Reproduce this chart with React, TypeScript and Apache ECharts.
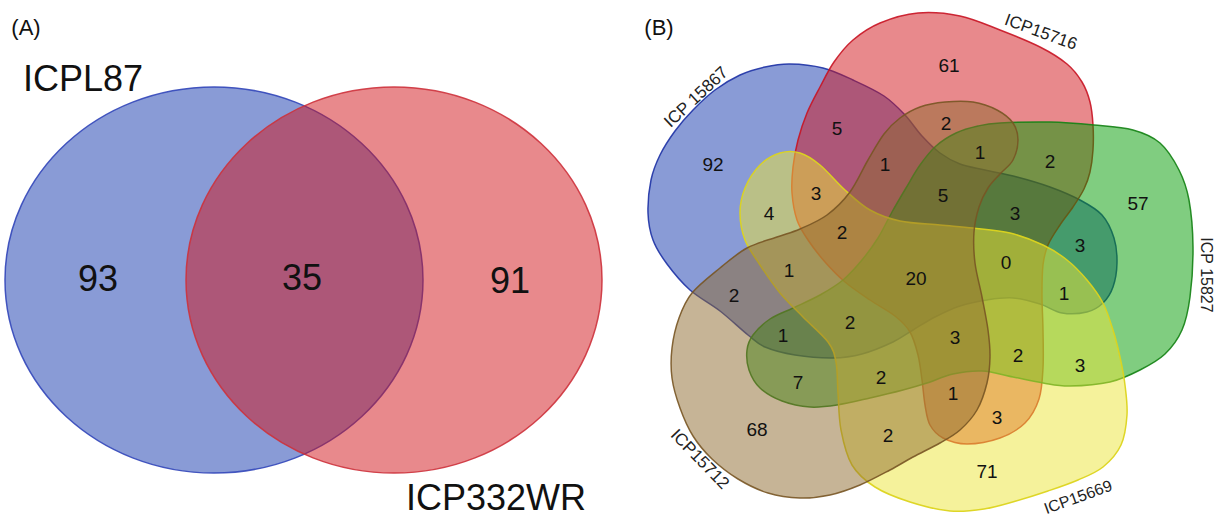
import React, { useEffect, useRef } from 'react';
import * as echarts from 'echarts';

// ---------------- DATA ----------------
// Panel A: two-set Venn
const panelASets = ['ICPL87', 'ICP332WR'];
const panelARegions = ['A', 'AB', 'B'];
const panelACounts = [93, 35, 91];

// Panel B: five-set Venn (B = ICP 15867, R = ICP15716, G = ICP 15827, Y = ICP15669, N = ICP15712)
const panelBSets = ['ICP 15867', 'ICP15716', 'ICP 15827', 'ICP15669', 'ICP15712'];
const panelBSetKeys = ['B', 'R', 'G', 'Y', 'N'];
const panelBRegions = [
  'B', 'R', 'G', 'Y', 'N', 'BR', 'BRN', 'BRY', 'BY', 'BRYN', 'BYN', 'BN', 'RN', 'RGN', 'RG', 'BRGN',
  'BRG', 'BG', 'BRGY', 'BRGYN', 'BGY', 'BGYN', 'BGN', 'RGYN', 'RGY', 'GY', 'GN', 'GYN', 'RYN', 'RY', 'YN',
];
const panelBCounts = [92, 61, 57, 71, 68, 5, 1, 3, 4, 2, 1, 2, 2, 1, 2, 5, 3, 3, 0, 20, 1, 2, 1, 3, 2, 3, 7, 2, 1, 3, 2];

// ---------------- LAYOUT / STYLE ----------------
const FONT = '"Liberation Sans", Arial, Helvetica, sans-serif';

const ellipseA = [
  { cx: 214, cy: 280, rx: 209, ry: 193, fill: 'rgba(20,55,173,0.5)', stroke: 'rgba(50,70,185,0.9)' },
  { cx: 394, cy: 280, rx: 208, ry: 193, fill: 'rgba(209,20,25,0.5)', stroke: 'rgba(205,50,60,0.9)' },
];
const panelALabelPos = [[83, 78], [496, 497]];
const panelACountPos = [[98, 278], [302, 277], [510, 280]];

const regionLabelPos = [
  [713, 164], [949, 65], [1138, 203], [987, 471], [757, 429], [837, 128], [885, 164], [816, 193], [769, 213],
  [842, 232], [789, 270], [734, 295], [946, 123], [980, 152], [1050, 161], [943, 195], [1015, 213], [1080, 245],
  [1006, 262], [916, 278], [1064, 293], [850, 322], [783, 335], [955, 337], [1018, 355], [1080, 365], [798, 382],
  [881, 377], [953, 393], [997, 417], [888, 435],
];

// set label placement: x, y, rotation (deg, ccw), font size
const setLabelPos = [
  [696, 97, 43, 17],
  [1041, 32, -20, 17],
  [1206, 275, -90, 16],
  [1078, 497, 20, 16],
  [700, 459, -46, 17],
];

const setStyle: Record<string, { fill: string; stroke: string }> = {
  B: { fill: 'rgba(20,55,173,0.5)', stroke: 'rgba(30,50,165,0.9)' },
  R: { fill: 'rgba(209,20,25,0.5)', stroke: 'rgba(200,20,35,0.9)' },
  G: { fill: 'rgba(1,155,1,0.5)', stroke: 'rgba(20,130,20,0.9)' },
  Y: { fill: 'rgba(235,229,55,0.5)', stroke: 'rgba(220,212,30,0.95)' },
  N: { fill: 'rgba(141,105,45,0.5)', stroke: 'rgba(120,85,35,0.9)' },
};

// outlines of the five set shapes (pixel geometry)
const outlines: Record<string, number[][]> = {
  R: [
    [925, 405], [922, 380], [918, 355], [910, 332], [895, 316], [870, 300], [845, 282], [825, 262], [808, 240],
    [797, 220], [792, 193], [793, 167], [798, 140], [807, 113], [820, 87], [834, 62], [853, 40], [880, 23],
    [918, 13], [960, 16], [1000, 30], [1040, 47], [1067, 64], [1082, 82], [1090, 102], [1093, 125], [1093, 150],
    [1090, 172], [1084, 189], [1073, 207], [1060, 225], [1048, 245], [1043, 265], [1042, 295], [1043, 330],
    [1043, 368], [1039, 399], [1025, 423], [1000, 438], [967, 444], [943, 438], [930, 425],
  ],
  B: [
    [648, 213], [651, 180], [660, 155], [675, 131], [693, 110], [715, 90], [740, 75], [765, 67], [790, 64],
    [823, 68], [853, 80], [884, 96], [905, 115], [922, 136], [940, 153], [960, 164], [985, 170], [1017, 177],
    [1050, 187], [1080, 200], [1102, 215], [1114, 238], [1117, 263], [1113, 287], [1103, 303], [1087, 312],
    [1062, 313], [1040, 304], [1013, 298], [987, 300], [960, 306], [935, 317], [913, 330], [893, 342],
    [862, 354], [833, 358], [795, 355], [765, 347], [748, 335], [720, 311], [690, 290], [667, 264], [653, 240],
  ],
  G: [
    [1000, 123], [1050, 122], [1094, 125], [1133, 130], [1160, 143], [1179, 170], [1189, 200], [1193, 247],
    [1190, 297], [1182, 330], [1165, 354], [1140, 370], [1110, 382], [1070, 386], [1043, 383], [1013, 377],
    [982, 371], [953, 374], [927, 383], [903, 390], [870, 398], [837, 405], [810, 407], [782, 401], [760, 388],
    [749, 370], [747, 350], [753, 335], [770, 319], [793, 308], [820, 295], [843, 280], [862, 260], [878, 238],
    [892, 212], [906, 188], [920, 165], [936, 146], [956, 133], [978, 126],
  ],
  Y: [
    [780, 153], [800, 153], [820, 165], [845, 190], [870, 210], [900, 221], [940, 225], [973, 228], [1010, 233],
    [1043, 245], [1067, 260], [1087, 280], [1103, 303], [1113, 330], [1120, 357], [1125, 385], [1127, 415],
    [1121, 445], [1103, 467], [1078, 480], [1048, 491], [1016, 501], [984, 509], [950, 511], [910, 502],
    [875, 487], [852, 465], [841, 430], [838, 393], [836, 362], [828, 342], [803, 317], [780, 293], [760, 265],
    [745, 240], [740, 213], [745, 188], [760, 165],
  ],
  N: [
    [692, 293], [720, 268], [747, 248], [777, 237], [800, 229], [827, 215], [850, 192], [868, 160], [884, 134],
    [900, 118], [920, 107], [945, 102], [973, 102], [997, 110], [1013, 123], [1018, 140], [1013, 160],
    [1000, 174], [988, 188], [979, 207], [974, 232], [975, 263], [982, 297], [988, 330], [990, 357], [987, 383],
    [977, 410], [960, 430], [940, 443], [913, 457], [890, 470], [860, 485], [830, 495], [800, 498], [768, 493],
    [738, 479], [712, 459], [693, 436], [680, 408], [672, 378], [672, 348], [679, 318],
  ],
};

function smoothClosedPath(pts: number[][]): string {
  const n = pts.length;
  let d = `M${pts[0][0]},${pts[0][1]}`;
  for (let i = 0; i < n; i++) {
    const p0 = pts[(i - 1 + n) % n];
    const p1 = pts[i];
    const p2 = pts[(i + 1) % n];
    const p3 = pts[(i + 2) % n];
    const c1x = p1[0] + (p2[0] - p0[0]) / 6;
    const c1y = p1[1] + (p2[1] - p0[1]) / 6;
    const c2x = p2[0] - (p3[0] - p1[0]) / 6;
    const c2y = p2[1] - (p3[1] - p1[1]) / 6;
    d += ` C${c1x.toFixed(2)},${c1y.toFixed(2)} ${c2x.toFixed(2)},${c2y.toFixed(2)} ${p2[0]},${p2[1]}`;
  }
  return d + ' Z';
}

function textEl(text: string, x: number, y: number, size: number, rotDeg = 0, color = '#111') {
  return {
    type: 'text',
    x,
    y,
    rotation: (rotDeg * Math.PI) / 180,
    silent: true,
    style: {
      text,
      font: `${size}px ${FONT}`,
      fontSize: size,
      fontFamily: FONT,
      fill: color,
      align: 'center',
      verticalAlign: 'middle',
      textAlign: 'center',
      textVerticalAlign: 'middle',
    },
  };
}

export default function App() {
  const ref = useRef<HTMLDivElement>(null);

  useEffect(() => {
    if (!ref.current) return;
    panelBSetKeys.forEach((k) => {
      echarts.graphic.registerShape('venn5_' + k, echarts.graphic.extendPath(smoothClosedPath(outlines[k]), {}));
    });
    const chart = echarts.init(ref.current, undefined, { renderer: 'svg' });

    const elements: any[] = [];
    // Panel A
    ellipseA.forEach((e) => {
      elements.push({
        type: 'ellipse',
        silent: true,
        shape: { cx: e.cx, cy: e.cy, rx: e.rx, ry: e.ry },
        style: { fill: e.fill, stroke: e.stroke, lineWidth: 1.5 },
      });
    });
    elements.push(textEl('(A)', 26, 27, 22));
    panelASets.forEach((s, i) => {
      elements.push(textEl(s, panelALabelPos[i][0], panelALabelPos[i][1], 36));
    });
    panelARegions.forEach((r, i) => {
      elements.push(textEl(String(panelACounts[i]), panelACountPos[i][0], panelACountPos[i][1], 36));
    });

    // Panel B shapes
    panelBSetKeys.forEach((k) => {
      elements.push({
        type: 'venn5_' + k,
        x: 0,
        y: 0,
        silent: true,
        style: { fill: setStyle[k].fill, stroke: setStyle[k].stroke, lineWidth: 1.5 },
      });
    });
    elements.push(textEl('(B)', 659, 27, 22));
    panelBSets.forEach((s, i) => {
      const p = setLabelPos[i];
      elements.push(textEl(s, p[0], p[1], p[3], p[2], '#222'));
    });
    panelBRegions.forEach((r, i) => {
      elements.push(textEl(String(panelBCounts[i]), regionLabelPos[i][0], regionLabelPos[i][1], 19));
    });

    chart.setOption({
      animation: false,
      backgroundColor: '#ffffff',
      graphic: { elements },
    });

    return () => {
      chart.dispose();
    };
  }, []);

  return (
    <div
      ref={ref}
      style={{ position: 'absolute', left: 0, top: 0, width: 1215, height: 520, background: '#fff' }}
    />
  );
}
